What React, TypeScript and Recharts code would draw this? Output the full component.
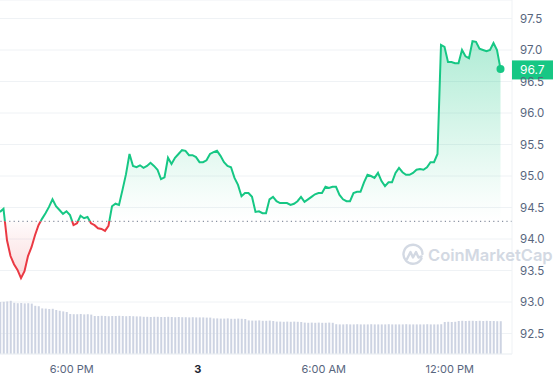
import {
  ComposedChart,
  Area,
  Bar,
  XAxis,
  YAxis,
  CartesianGrid,
  ReferenceLine,
  ReferenceDot,
} from "recharts";

// price every 10 minutes, starting 14:35 on the 2nd
const PRICES = [
  94.43, 94.48, 93.98, 93.73, 93.6, 93.51, 93.38, 93.49, 93.73, 93.87,
  94.06, 94.22, 94.32, 94.41, 94.51, 94.63, 94.52, 94.46, 94.4, 94.44,
  94.38, 94.22, 94.25, 94.37, 94.33, 94.35, 94.25, 94.22, 94.17, 94.16,
  94.13, 94.21, 94.52, 94.56, 94.54, 94.78, 95.03, 95.35, 95.16, 95.14,
  95.17, 95.13, 95.16, 95.21, 95.16, 95.1, 94.95, 94.98, 95.29, 95.19,
  95.29, 95.35, 95.41, 95.4, 95.33, 95.33, 95.3, 95.22, 95.22, 95.25,
  95.35, 95.38, 95.4, 95.32, 95.22, 95.16, 95.14, 94.97, 94.86, 94.68,
  94.73, 94.73, 94.67, 94.43, 94.44, 94.41, 94.41, 94.63, 94.67, 94.6,
  94.57, 94.57, 94.57, 94.54, 94.56, 94.6, 94.67, 94.59, 94.63, 94.67,
  94.71, 94.73, 94.73, 94.83, 94.81, 94.83, 94.83, 94.7, 94.63, 94.6,
  94.6, 94.73, 94.75, 94.75, 94.9, 95.02, 95.0, 94.97, 95.05, 94.92,
  94.84, 94.9, 94.9, 95.05, 95.13, 95.06, 95.02, 95.02, 95.05, 95.1,
  95.11, 95.1, 95.14, 95.22, 95.22, 95.35, 97.08, 97.05, 96.81, 96.81,
  96.79, 96.79, 97.0, 96.9, 96.87, 97.14, 97.13, 97.02, 97.0, 96.98,
  97.0, 97.11, 97.0, 96.7,
];

// 24h volume (M) for the same steps
const VOLUMES = [
  26.0, 26.1, 26.3, 26.6, 25.6, 25.4, 25.5, 25.3, 25.4, 25.2,
  24.1, 23.9, 22.8, 22.7, 22.5, 22.6, 22.0, 21.6, 21.3, 21.0,
  20.0, 19.9, 19.9, 20.0, 19.8, 19.9, 19.7, 19.0, 19.0, 19.1,
  19.0, 18.9, 19.0, 19.0, 19.1, 19.0, 18.9, 19.0, 18.9, 18.8,
  18.8, 18.6, 18.6, 18.5, 18.6, 18.6, 18.5, 18.5, 18.6, 18.5,
  18.4, 18.5, 18.4, 18.4, 18.3, 18.4, 18.3, 18.3, 18.3, 18.2,
  18.2, 17.8, 17.8, 17.7, 17.7, 17.8, 17.6, 17.6, 17.7, 17.6,
  17.5, 16.8, 16.7, 16.7, 16.8, 16.6, 16.6, 16.7, 16.5, 16.2,
  16.2, 16.1, 16.2, 16.1, 16.2, 16.1, 16.0, 15.7, 15.6, 15.7,
  15.6, 15.7, 15.6, 15.6, 15.7, 15.6, 14.9, 14.8, 14.8, 14.9,
  14.8, 14.8, 14.9, 14.8, 14.8, 14.8, 14.9, 14.8, 14.8, 14.8,
  14.8, 14.9, 14.8, 14.8, 14.8, 14.8, 14.9, 14.8, 14.8, 14.8,
  14.8, 14.8, 14.9, 14.8, 14.8, 14.8, 14.9, 16.0, 16.1, 16.0,
  16.1, 16.5, 16.6, 16.5, 16.6, 16.6, 16.5, 16.6, 16.5, 16.6,
  16.5, 16.5, 16.4, 16.4,
];

const START_HOUR = 14 + 35 / 60;
const STEP_HOURS = 10 / 60;
const OPEN_PRICE = 94.28;
const LAST_LABEL = "96.7";

const PRICE_TICKS = [92.5, 93, 93.5, 94, 94.5, 95, 95.5, 96, 96.5, 97, 97.5];
const TIME_TICKS = [18, 24, 30, 36];
const TIME_LABELS = ["6:00 PM", "3", "6:00 AM", "12:00 PM"];

const W = 553;
const H = 380;
const AXIS_W = 41;
const AXIS_H = 26;
const PLOT_W = W - AXIS_W;
const PLOT_H = H - AXIS_H;
const Y_DOMAIN: [number, number] = [92.175, 97.794];
const X_DOMAIN: [number, number] = [START_HOUR, START_HOUR + PLOT_W / 21];

const GREEN = "#16c784";
const RED = "#ea3943";
const TEXT = "#58667e";
const GRID = "#eff2f5";

const data = PRICES.map((price, i) => ({
  t: START_HOUR + i * STEP_HOURS,
  price,
  volume: VOLUMES[i],
}));
const last = data[data.length - 1];

const baseOffset = (Y_DOMAIN[1] - OPEN_PRICE) / (Y_DOMAIN[1] - Y_DOMAIN[0]);

function TimeTick(props: any) {
  const { x, y, payload } = props;
  const idx = TIME_TICKS.indexOf(payload.value);
  const isDay = TIME_LABELS[idx] === "3";
  return (
    <text
      x={x}
      y={y}
      dy="0.71em"
      textAnchor="middle"
      fontSize={11}
      fontWeight={isDay ? 700 : 400}
      fill={isDay ? "#222531" : TEXT}
    >
      {TIME_LABELS[idx]}
    </text>
  );
}

function PriceTag(props: any) {
  const vb = props.viewBox || {};
  const cy = (vb.y ?? 0) + (vb.height ?? 0) / 2 + 1;
  return (
    <g>
      <rect x={PLOT_W} y={cy - 9.5} width={AXIS_W} height={19} fill={GREEN} />
      <text x={PLOT_W + 8} y={cy} dy="0.36em" fontSize={12} fill="#fff">
        {LAST_LABEL}
      </text>
    </g>
  );
}

function Watermark() {
  return (
    <div
      style={{
        position: "absolute",
        left: 401,
        top: 242,
        height: 26,
        display: "flex",
        alignItems: "center",
        gap: 3,
        whiteSpace: "nowrap",
        pointerEvents: "none",
        color: "#d3d9e3",
      }}
    >
      <svg width={24} height={24} viewBox="0 0 24 24" style={{ flexShrink: 0 }}>
        <path
          d="M20.5 15.5 A9.5 9.5 0 1 1 21.5 11"
          fill="none"
          stroke="#d3d9e3"
          strokeWidth={2.4}
          strokeLinecap="round"
        />
        <polyline
          points="6,16 9.5,9 12,14.5 15,9 17.5,14.5 20.5,13.5"
          fill="none"
          stroke="#d3d9e3"
          strokeWidth={2.4}
          strokeLinejoin="round"
          strokeLinecap="round"
        />
      </svg>
      <span style={{ fontSize: 16.5, fontWeight: 600 }}>CoinMarketCap</span>
    </div>
  );
}

export default function App() {
  return (
    <div
      style={{
        position: "absolute",
        left: 0,
        top: 0,
        width: W,
        height: H,
        background: "#fff",
        fontFamily: "Inter, 'Noto Sans', sans-serif",
      }}
    >
      <ComposedChart width={W} height={H} data={data} margin={{ top: 0, right: 0, bottom: 0, left: 0 }}>
        <defs>
          <linearGradient id="lineStroke" x1="0" y1="0" x2="0" y2={PLOT_H} gradientUnits="userSpaceOnUse">
            <stop offset={baseOffset} stopColor={GREEN} />
            <stop offset={baseOffset} stopColor={RED} />
          </linearGradient>
          <linearGradient id="lineFill" x1="0" y1="0" x2="0" y2={PLOT_H} gradientUnits="userSpaceOnUse">
            <stop offset={0.05} stopColor={GREEN} stopOpacity={0.38} />
            <stop offset={0.55} stopColor={GREEN} stopOpacity={0.04} />
            <stop offset={baseOffset} stopColor={GREEN} stopOpacity={0} />
            <stop offset={baseOffset} stopColor={RED} stopOpacity={0.02} />
            <stop offset={0.8} stopColor={RED} stopOpacity={0.2} />
            <stop offset={1} stopColor={RED} stopOpacity={0.28} />
          </linearGradient>
        </defs>
        <CartesianGrid yAxisId="price" vertical={false} stroke={GRID} />
        <XAxis
          dataKey="t"
          type="number"
          domain={X_DOMAIN}
          allowDataOverflow
          ticks={TIME_TICKS}
          tick={<TimeTick />}
          tickLine={false}
          tickMargin={5}
          axisLine={{ stroke: GRID }}
          height={AXIS_H}
        />
        <YAxis
          yAxisId="price"
          orientation="right"
          type="number"
          domain={Y_DOMAIN}
          allowDataOverflow
          ticks={PRICE_TICKS}
          tickFormatter={(v: number) => v.toFixed(1)}
          tick={{ fill: TEXT, fontSize: 11.5 }}
          tickLine={false}
          axisLine={{ stroke: GRID }}
          width={AXIS_W}
        />
        <YAxis yAxisId="vol" hide domain={[0, 177]} />
        <Bar yAxisId="vol" dataKey="volume" fill="#cdd3e2" barSize={2} isAnimationActive={false} />
        <ReferenceLine
          yAxisId="price"
          y={OPEN_PRICE}
          stroke="#8a93a3"
          strokeWidth={1.2}
          strokeDasharray="1.2 3.2"
        />
        <Area
          yAxisId="price"
          type="linear"
          dataKey="price"
          baseValue={OPEN_PRICE}
          stroke="url(#lineStroke)"
          strokeWidth={2}
          fill="url(#lineFill)"
          fillOpacity={1}
          dot={false}
          activeDot={false}
          isAnimationActive={false}
        />
        <ReferenceDot
          yAxisId="price"
          x={last.t}
          y={last.price}
          r={4}
          fill={GREEN}
          stroke="none"
          label={<PriceTag />}
        />
      </ComposedChart>
      <Watermark />
    </div>
  );
}
